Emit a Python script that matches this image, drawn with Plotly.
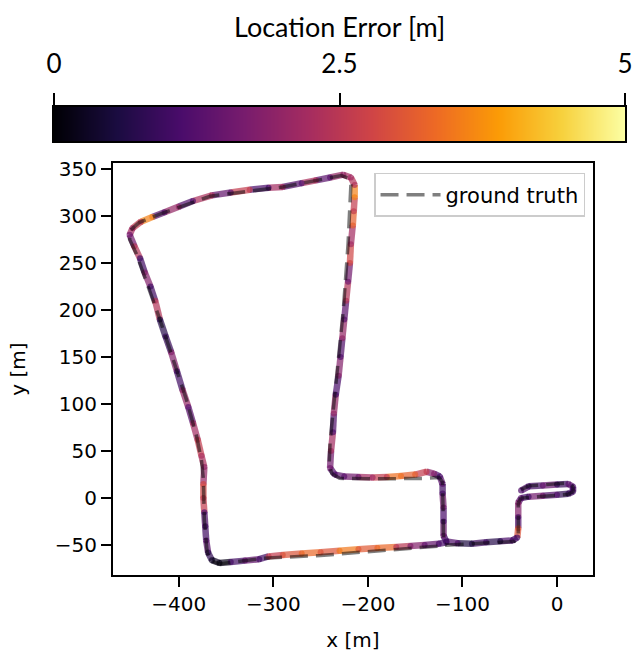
import plotly.graph_objects as go
from plotly.colors import sample_colorscale

# Estimated trajectory: x [m], y [m], location error [m]
track_x = [-38, -30, -15, 0, 12, 17, 17, 12, 0, -15, -30, -38,
           -41, -41, -41, -42, -47, -60, -75, -90, -105, -117,
           -120, -120, -120, -121, -121, -124, -130, -138, -150, -165, -180, -195, -210, -225, -235, -240,
           -239, -237, -236, -234, -231, -229, -227, -225, -223, -221, -219, -218, -216, -215, -214, -214, -218, -226,
           -240, -255, -270, -290, -305, -325, -345, -365, -385, -400, -415, -428, -440, -449,
           -452, -447, -441, -436, -430, -425, -420, -414, -408, -402, -396, -390, -385, -380, -376, -373,
           -374, -374, -373, -372, -371, -369, -365, -357,
           -345, -330, -315, -305, -290, -270, -250, -230, -210, -190, -170, -155, -140, -125, -117]
track_y = [8, 12.5, 13.5, 14.5, 15, 12, 7, 4.5, 3.5, 2.5, 1.5, 0,
           -5, -20, -32, -42, -45, -46, -47, -48.5, -48, -46,
           -40, -25, -10, 5, 15, 23, 26, 28, 25, 23.5, 22.5, 22, 22.5, 23, 25, 32,
           50, 70, 90, 110, 130, 150, 170, 190, 210, 230, 250, 270, 290, 305, 320, 333, 341, 344,
           341, 338, 335, 331, 330, 328, 325, 322, 316, 310, 304, 299, 294, 287,
           280, 268, 255, 240, 225, 210, 190, 172, 155, 135, 115, 97, 80, 62, 45, 33,
           15, 0, -15, -30, -45, -58, -66, -69,
           -68, -66.5, -65, -62, -60.5, -59, -57.5, -56, -54.5, -53, -52, -51, -50, -48.5, -47]
track_err = [1.2, 1.0, 1.4, 0.9, 1.3, 1.1, 1.0, 0.8, 1.2, 1.6, 1.0, 1.3,
             1.8, 1.2, 3.0, 1.0, 1.1, 0.7, 1.0, 0.6, 1.2, 1.0,
             1.5, 1.1, 1.6, 1.0, 1.3, 1.1, 1.8, 2.6, 3.2, 3.4, 2.6, 2.2, 1.6, 1.3, 1.2, 1.6,
             2.2, 1.2, 2.0, 1.1, 1.8, 1.2, 2.0, 1.3, 2.4, 1.6, 2.8, 2.2, 3.2, 2.6, 3.6, 2.4, 2.2, 2.0,
             1.3, 2.3, 1.2, 2.2, 1.1, 2.6, 1.4, 2.3, 1.2, 2.0, 1.3, 3.6, 2.6, 2.2,
             1.6, 2.4, 1.0, 1.8, 1.0, 2.4, 0.7, 0.9, 1.8, 1.0, 2.0, 1.3, 2.2, 2.6, 2.3, 2.0,
             2.8, 2.6, 1.2, 1.0, 1.3, 0.8, 0.3, 0.2,
             1.0, 1.4, 1.0, 2.6, 3.0, 3.3, 3.0, 3.5, 3.1, 3.3, 2.5, 1.8, 1.4, 1.1, 1.0]

# Ground-truth trajectory
gt_x = [-38, -30, 12, 17, 17, 12, -38, -41, -41, -45, -60, -117, -120, -121, -125, -140, -180, -230, -238,
        -241, -240, -233, -226, -221, -219, -218, -220, -228, -290, -367, -420, -442, -451, -452, -445,
        -420, -392, -381, -376, -374, -373, -370, -366, -357, -310, -250, -187, -125, -117]
gt_y = [9, 13, 16, 12, 7, 4, 0, -5, -40, -46, -47, -50, -45, 17, 22, 21, 20.5, 21, 26,
        35, 60, 130, 200, 270, 310, 333, 340, 343, 331, 321, 302, 293, 285, 275, 260,
        190, 105, 65, 40, 20, -23, -58, -67, -70, -64, -61, -56, -51, -49]

CMIN, CMAX = 0, 5
CBAR_TICKS = [0, 2.5, 5]
CBAR_TICKTEXT = ["0", "2.5", "5"]
X_TICKS = [-400, -300, -200, -100, 0]
Y_TICKS = [-50, 0, 50, 100, 150, 200, 250, 300, 350]

seg_colors = sample_colorscale("Inferno", [(e - CMIN) / (CMAX - CMIN) for e in track_err])

fig = go.Figure()

# Each leg of the estimated track is coloured by its location error
for i in range(len(track_x) - 1):
    fig.add_trace(go.Scatter(
        x=track_x[i:i + 2], y=track_y[i:i + 2], mode="lines",
        line=dict(color=seg_colors[i], width=6.5),
        opacity=0.7, showlegend=False, hoverinfo="skip",
    ))

fig.add_trace(go.Scatter(
    x=track_x, y=track_y, mode="markers", showlegend=False, hoverinfo="skip",
    marker=dict(color=track_err, cmin=CMIN, cmax=CMAX, colorscale="Inferno",
                size=6, opacity=0.7, line=dict(width=0), showscale=False),
))

fig.add_trace(go.Scatter(
    x=gt_x, y=gt_y, mode="lines", name="ground truth",
    line=dict(color="rgba(0,0,0,0.5)", width=3.5, dash="18px,8px"),
    hoverinfo="skip",
))

# Colour bar drawn as a gradient strip on its own axes above the map
fig.add_trace(go.Heatmap(
    z=[[CMIN, CMAX], [CMIN, CMAX]], x=[CMIN, CMAX], y=[0, 1],
    colorscale="Inferno", zmin=CMIN, zmax=CMAX, zsmooth="best",
    showscale=False, hoverinfo="skip", xaxis="x2", yaxis="y2",
))

fig.add_annotation(
    text="Location Error [m]", xref="paper", yref="paper", x=0.5, y=1.172,
    xanchor="center", yanchor="middle", showarrow=False,
    font=dict(family="Lato", size=27, color="black"),
)

tick_font = dict(family="DejaVu Sans", size=20, color="black")
title_font = dict(family="DejaVu Sans", size=20, color="black")
axis_common = dict(
    showline=True, linecolor="black", linewidth=2, mirror=True,
    ticks="outside", ticklen=10, tickwidth=2, tickcolor="black",
    showgrid=False, zeroline=False, automargin=False, tickfont=tick_font,
)

fig.update_layout(
    template="none",
    width=633, height=655,
    margin=dict(l=54, r=8, t=107, b=80),
    paper_bgcolor="white", plot_bgcolor="white",
    xaxis=dict(domain=[0.1033, 0.9440], range=[-469.6, 38.1], tickvals=X_TICKS,
               title=dict(text="x [m]", font=title_font, standoff=18), anchor="y",
               **axis_common),
    yaxis=dict(domain=[0, 0.8803], range=[-81.8, 356.4], tickvals=Y_TICKS,
               title=dict(text="y [m]", font=title_font, standoff=24), anchor="x",
               **axis_common),
    xaxis2=dict(domain=[0, 1], range=[CMIN, CMAX], anchor="y2", side="top",
                tickvals=CBAR_TICKS, ticktext=CBAR_TICKTEXT,
                showline=True, linecolor="black", linewidth=2, mirror=True,
                ticks="outside", ticklen=12, tickwidth=2, tickcolor="black",
                ticklabelstandoff=10,
                showgrid=False, zeroline=False, automargin=False,
                tickfont=dict(family="Lato", size=26, color="black")),
    yaxis2=dict(domain=[0.9274, 1.0], range=[0, 1], anchor="x2",
                showline=True, linecolor="black", linewidth=2, mirror=True,
                ticks="", showticklabels=False, showgrid=False, zeroline=False,
                automargin=False),
    legend=dict(
        x=0.93, y=0.859, xanchor="right", yanchor="top",
        bgcolor="white", bordercolor="#cccccc", borderwidth=1.5,
        itemwidth=60,
        font=dict(family="DejaVu Sans", size=21, color="black"),
    ),
)

fig.write_html("out.html")
